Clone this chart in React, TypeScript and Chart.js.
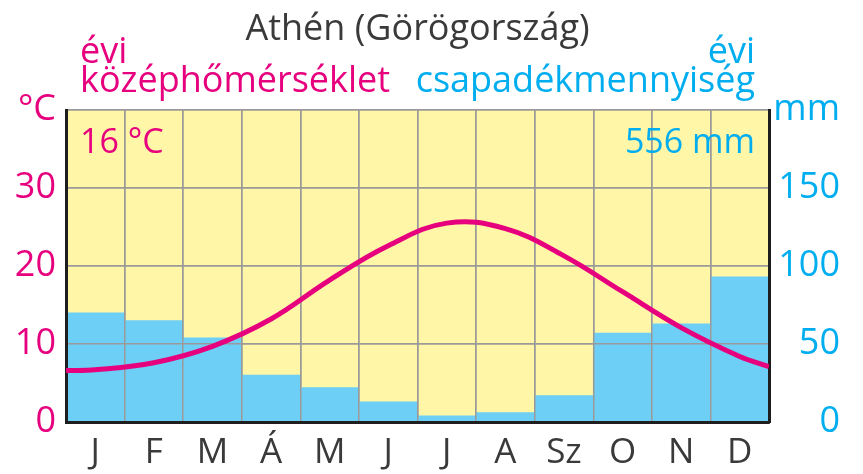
import React, { useEffect, useRef } from 'react';
import { Chart, registerables } from 'chart.js';

Chart.register(...registerables);

// ---- data ----
const months = ['J', 'F', 'M', 'Á', 'M', 'J', 'J', 'A', 'Sz', 'O', 'N', 'D'];
const precipitation = [70, 65, 54, 30, 22, 13, 4, 6, 17, 57, 63, 93]; // mm
const temperature = [6.7, 7.6, 9.7, 13.2, 18.2, 22.6, 25.5, 24.8, 21.3, 16.7, 12.1, 8.4]; // °C
const tempYearStart = 6.6; // curve value at the start of January
const tempYearEnd = 7.1; // curve value at the end of December
const tempAxisMax = 40;
const tempStep = 10;
const precipAxisMax = 200;
const precipStep = 50;
const tempUnit = '°C';
const precipUnit = 'mm';
const titleText = 'Athén (Görögország)';
const tempLabelLines = ['évi', 'középhőmérséklet'];
const precipLabelLines = ['évi', 'csapadékmennyiség'];
const annualTemp = '16 °C';
const annualPrecip = '556 mm';

// ---- styles ----
const FONT = '"Open Sans", Lato, sans-serif';
const PINK = '#e6007e';
const CYAN = '#00aeef';
const BAR = '#6dcff6';
const YELLOW = '#fff6a8';
const GRID = '#9a9a9a';
const DARK = '#3a3a3a';
const BLACK = '#1e1e1e';

const overlayPlugin = {
  id: 'overlay',
  beforeDraw(chart: any) {
    const { ctx, chartArea: a } = chart;
    ctx.save();
    ctx.fillStyle = YELLOW;
    ctx.fillRect(a.left, a.top, a.right - a.left, a.bottom - a.top);
    ctx.restore();
  },
  afterDatasetDraw(chart: any, args: any) {
    if (args.index !== 1) return;
    const a = chart.chartArea;
    chart.scales.x.drawGrid(a);
    chart.scales.y.drawGrid(a);
    chart.scales.x.drawBorder();
    chart.scales.y.drawBorder();
    chart.scales.y1.drawBorder();
  },
  afterDraw(chart: any) {
    const { ctx, chartArea: a } = chart;
    ctx.save();
    ctx.textBaseline = 'alphabetic';
    // title
    ctx.font = `36px ${FONT}`;
    ctx.fillStyle = DARK;
    ctx.textAlign = 'center';
    ctx.fillText(titleText, (a.left + a.right) / 2, a.top - 70);
    // legend labels
    ctx.font = `36px ${FONT}`;
    ctx.fillStyle = PINK;
    ctx.textAlign = 'left';
    ctx.fillText(tempLabelLines[0], a.left + 14, a.top - 47);
    ctx.fillText(tempLabelLines[1], a.left + 14, a.top - 18);
    ctx.fillStyle = CYAN;
    ctx.textAlign = 'right';
    ctx.fillText(precipLabelLines[0], a.right - 14, a.top - 47);
    ctx.fillText(precipLabelLines[1], a.right - 14, a.top - 18);
    // annual values
    ctx.font = `34px ${FONT}`;
    ctx.fillStyle = PINK;
    ctx.textAlign = 'left';
    ctx.fillText(annualTemp, a.left + 14, a.top + 43);
    ctx.fillStyle = CYAN;
    ctx.textAlign = 'right';
    ctx.fillText(annualPrecip, a.right - 14, a.top + 43);
    ctx.restore();
  },
};

export default function App() {
  const ref = useRef<HTMLCanvasElement | null>(null);

  useEffect(() => {
    document.body.style.margin = '0';
    const canvas = ref.current;
    if (!canvas) return;
    const linePoints = [
      { x: 0, y: tempYearStart },
      ...temperature.map((t, i) => ({ x: i + 0.5, y: t })),
      { x: months.length, y: tempYearEnd },
    ];
    const chart = new Chart(canvas, {
      type: 'bar',
      data: {
        labels: months,
        datasets: [
          {
            type: 'line',
            label: 'Középhőmérséklet',
            data: linePoints as any,
            xAxisID: 'xl',
            yAxisID: 'y',
            borderColor: PINK,
            borderWidth: 5,
            pointRadius: 0,
            tension: 0.4,
            fill: false,
          } as any,
          {
            type: 'bar',
            label: 'Csapadék',
            data: precipitation,
            xAxisID: 'x',
            yAxisID: 'y1',
            backgroundColor: BAR,
            borderWidth: 0,
            barPercentage: 1,
            categoryPercentage: 1,
            grouped: false,
          } as any,
        ],
      },
      plugins: [overlayPlugin],
      options: {
        animation: false,
        responsive: false,
        maintainAspectRatio: false,
        layout: { padding: { top: 110, left: 0, right: 23, bottom: 0 } },
        plugins: { legend: { display: false }, tooltip: { enabled: false }, title: { display: false } },
        scales: {
          x: {
            type: 'category',
            offset: true,
            grid: { offset: true, color: GRID, lineWidth: 1.5, drawTicks: false },
            border: { display: true, color: BLACK, width: 3 },
            ticks: { color: DARK, font: { family: FONT, size: 35 }, padding: 10, maxRotation: 0, autoSkip: false },
            afterFit: (s: any) => { s.height = 52; },
          },
          xl: { type: 'linear', min: 0, max: months.length, offset: false, display: false, grid: { offset: false } },
          y: {
            position: 'left',
            min: 0,
            max: tempAxisMax,
            grid: { color: GRID, lineWidth: 1.5, drawTicks: false },
            border: { display: true, color: BLACK, width: 3 },
            ticks: {
              stepSize: tempStep,
              color: PINK,
              font: { family: FONT, size: 36 },
              padding: 10,
              callback: (v: any) => (v === tempAxisMax ? tempUnit : String(v)),
            },
            afterFit: (s: any) => { s.width = 66; },
          },
          y1: {
            position: 'right',
            min: 0,
            max: precipAxisMax,
            grid: { display: false, drawTicks: false },
            border: { display: true, color: BLACK, width: 3 },
            ticks: {
              stepSize: precipStep,
              color: CYAN,
              font: { family: FONT, size: 36 },
              padding: 2,
              crossAlign: 'far',
              callback: (v: any) => (v === precipAxisMax ? precipUnit : String(v)),
            },
            afterFit: (s: any) => { s.width = 71; },
          },
        },
      } as any,
    });
    return () => chart.destroy();
  }, []);

  return (
    <div style={{ width: 863, height: 474, position: 'relative' }}>
      <canvas ref={ref} width={863} height={474} style={{ display: 'block', width: 863, height: 474 }} />
    </div>
  );
}
